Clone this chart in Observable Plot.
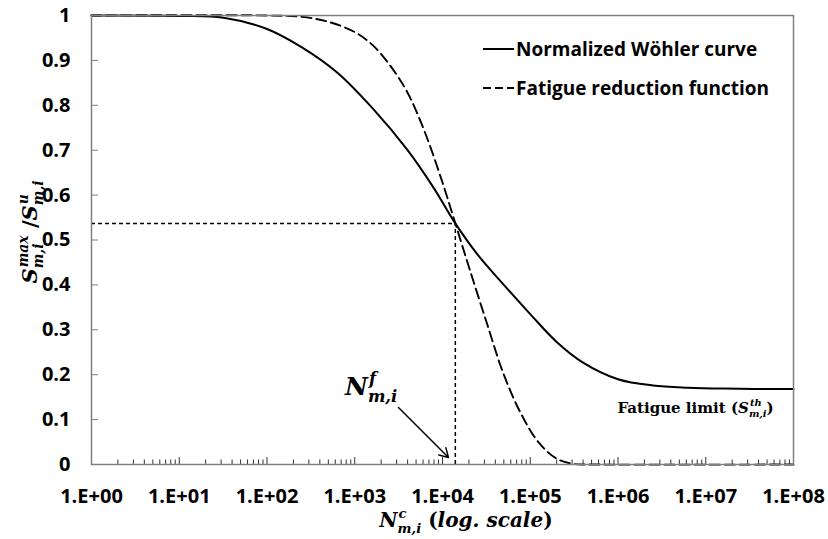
<!DOCTYPE html>
<html><head><meta charset="utf-8">
<script src="https://cdn.jsdelivr.net/npm/d3@7"></script>
<script src="https://cdn.jsdelivr.net/npm/@observablehq/plot@0.6"></script>
<style>
body{margin:0;background:#fff;}
#chart{width:828px;height:539px;}
</style>
</head><body><div id="chart"></div>
<script>
// ---- data ----
const seriesNames = ["Normalized Wöhler curve", "Fatigue reduction function"];
const wohlerN = [1, 10, 32, 100, 250, 630, 1600, 4000, 8000, 14000, 25000, 50000, 100000, 200000, 400000, 1000000, 2500000, 6300000, 16000000, 100000000];
const wohlerS = [1.0, 0.999, 0.995, 0.97, 0.929, 0.873, 0.793, 0.70, 0.615, 0.537, 0.468, 0.40, 0.335, 0.273, 0.227, 0.19, 0.176, 0.171, 0.169, 0.168];
const reductionN = [1, 100, 250, 500, 1000, 1600, 2500, 4000, 6300, 10000, 14000, 20000, 32000, 50000, 80000, 126000, 200000, 316000, 500000, 100000000];
const reductionS = [1, 1, 0.997, 0.986, 0.963, 0.934, 0.89, 0.828, 0.74, 0.628, 0.537, 0.44, 0.315, 0.20, 0.11, 0.048, 0.013, 0.001, 0, 0];
const xTickValues = [1, 1e1, 1e2, 1e3, 1e4, 1e5, 1e6, 1e7, 1e8];
const xTickLabels = ["1.E+00", "1.E+01", "1.E+02", "1.E+03", "1.E+04", "1.E+05", "1.E+06", "1.E+07", "1.E+08"];
const yTickValues = [0, 0.1, 0.2, 0.3, 0.4, 0.5, 0.6, 0.7, 0.8, 0.9, 1];
const yTickLabels = ["0", "0.1", "0.2", "0.3", "0.4", "0.5", "0.6", "0.7", "0.8", "0.9", "1"];
const fatigueLifeN = [14000];
const fatigueLifeS = [0.537];
const arrowFromN = [3150], arrowFromS = [0.127], arrowToN = [11700], arrowToS = [0.0156];
const nfLabelN = [785], nfLabelS = [0.154];
const limitLabelN = [1.0e6], limitLabelS = [0.114];

// minor log ticks (2..9 per decade)
const minorTicks = [];
for (let d = 0; d < 8; d++) for (let k = 2; k <= 9; k++) minorTicks.push(k * Math.pow(10, d));
const decadeTicks = xTickValues.slice(1, -1);

const wohler = wohlerN.map((n, i) => ({n, s: wohlerS[i]}));
const reduction = reductionN.map((n, i) => ({n, s: reductionS[i]}));
const guide = [{n: fatigueLifeN[0], s: fatigueLifeS[0]}];
const arrows = [{x1: arrowFromN[0], y1: arrowFromS[0], x2: arrowToN[0], y2: arrowToS[0]}];

const plot = Plot.plot({
  width: 828, height: 539,
  marginLeft: 91, marginRight: 35, marginTop: 15, marginBottom: 75,
  style: {fontFamily: "'Open Sans', sans-serif", fontWeight: 700, fontSize: "20px", color: "#000", background: "#fff", overflow: "visible"},
  x: {type: "log", domain: [1, 1e8]},
  y: {domain: [0, 1]},
  marks: [
    Plot.axisX(minorTicks, {tickSize: -4.5, fill: "none", stroke: "#333", label: null}),
    Plot.axisX(decadeTicks, {tickSize: -7, fill: "none", stroke: "#333", label: null}),
    Plot.axisX(xTickValues, {tickSize: 0, tickPadding: 24, tickFormat: d => xTickLabels[xTickValues.indexOf(d)], label: null, fontSize: 20}),
    Plot.axisY(yTickValues, {tickSize: -7, fill: "none", stroke: "#808080", label: null}),
    Plot.axisY(yTickValues, {tickSize: 0, tickPadding: 21, tickFormat: d => yTickLabels[yTickValues.indexOf(d)], label: null, fontSize: 20}),
    Plot.ruleY(guide, {y: "s", x1: 1, x2: "n", stroke: "#000", strokeWidth: 1.5, strokeDasharray: "4,3"}),
    Plot.ruleX(guide, {x: "n", y1: 0, y2: "s", stroke: "#000", strokeWidth: 1.5, strokeDasharray: "4,3"}),
    Plot.line(reduction, {x: "n", y: "s", curve: "catmull-rom", stroke: "#000", strokeWidth: 1.9, strokeDasharray: "10,5"}),
    Plot.line(wohler, {x: "n", y: "s", curve: "catmull-rom", stroke: "#000", strokeWidth: 2}),
    Plot.arrow(arrows, {x1: "x1", y1: "y1", x2: "x2", y2: "y2", stroke: "#000", strokeWidth: 1.5, headLength: 10}),
    Plot.frame({stroke: "#808080", strokeWidth: 1.5})
  ]
});
document.getElementById("chart").appendChild(plot);

const svg = d3.select(plot);
const X = plot.scale("x"), Y = plot.scale("y");
const serif = "'DejaVu Serif', 'Liberation Serif', serif";

// math-like text helper: parts [{t, sup, sub, italic}]
function mathText(x, y, parts, size, {rotate = 0, anchor = "start", family = serif} = {}) {
  const outer = svg.append("g").attr("transform", `translate(${x},${y}) rotate(${rotate})`);
  const g = outer.append("g").attr("font-family", family).attr("font-weight", "bold")
    .attr("fill", "#000").attr("text-anchor", "start");
  let cx = 0;
  for (const p of parts) {
    if (p.t) {
      const t = g.append("text").attr("x", cx).attr("y", 0).attr("font-size", size)
        .attr("font-style", p.italic === false ? "normal" : "italic").attr("xml:space", "preserve").text(p.t);
      cx += t.node().getComputedTextLength();
    }
    let w = 0;
    if (p.sup) {
      const s = g.append("text").attr("x", cx + 1).attr("y", -size * 0.45).attr("font-size", size * 0.66)
        .attr("font-style", "italic").text(p.sup);
      w = Math.max(w, s.node().getComputedTextLength() + 1);
    }
    if (p.sub) {
      const s = g.append("text").attr("x", cx).attr("y", size * 0.28).attr("font-size", size * 0.66)
        .attr("font-style", "italic").text(p.sub);
      w = Math.max(w, s.node().getComputedTextLength());
    }
    cx += w;
  }
  if (anchor === "middle") g.attr("transform", `translate(${-cx / 2},0)`);
  return cx;
}

// y axis title
mathText(37, 232, [
  {t: "S", sup: "max", sub: "m,i"}, {t: " /", italic: false}, {t: "S", sup: "u", sub: "m,i"}
], 21, {rotate: -90, anchor: "middle"});

// x axis title
mathText(X.apply(1e4) + 24, 527, [
  {t: "N", sup: "c", sub: "m,i"}, {t: " (", italic: false}, {t: "log. scale"}, {t: ")", italic: false}
], 20, {anchor: "middle"});

// N^f label
mathText(X.apply(nfLabelN[0]), Y.apply(nfLabelS[0]), [{t: "N", sup: "f", sub: "m,i"}], 25);

// Fatigue limit label
mathText(X.apply(limitLabelN[0]), Y.apply(limitLabelS[0]), [
  {t: "Fatigue limit (", italic: false}, {t: "S", sup: "th", sub: "m,i"}, {t: ")", italic: false}
], 15);

// legend
const legend = svg.append("g").attr("font-family", "'Open Sans', sans-serif").attr("font-weight", 700)
  .attr("font-size", 19).attr("text-anchor", "start");
[[49, null], [88, "8,4"]].forEach(([y, dash], i) => {
  const l = legend.append("line").attr("x1", 483).attr("x2", 514).attr("y1", y).attr("y2", y)
    .attr("stroke", "#000").attr("stroke-width", 2);
  if (dash) l.attr("stroke-dasharray", dash).attr("stroke-width", 1.8);
  legend.append("text").attr("x", 516).attr("y", y).attr("dy", "0.35em").text(seriesNames[i]);
});
</script>
</body></html>
